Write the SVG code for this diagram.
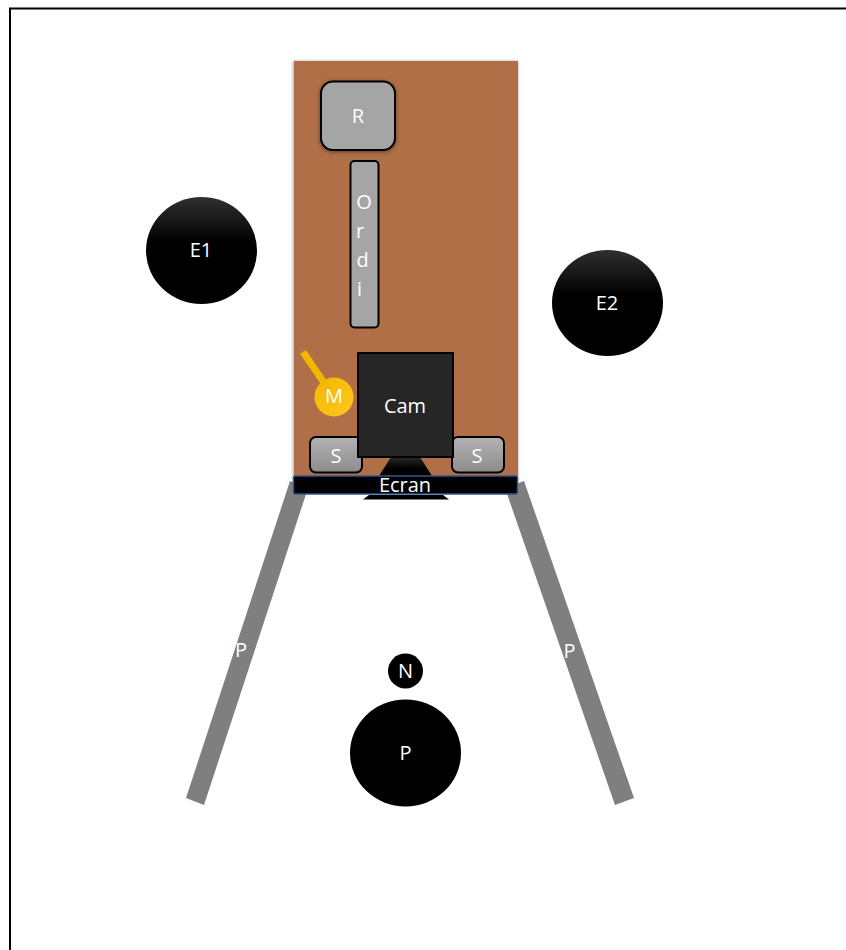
<svg xmlns="http://www.w3.org/2000/svg" width="846" height="950" viewBox="0 0 846 950">
<defs>
<linearGradient id="dark" x1="0" y1="0" x2="0" y2="1"><stop offset="0" stop-color="#303030"/><stop offset="0.42" stop-color="#000"/></linearGradient>
<linearGradient id="grey" x1="0" y1="0" x2="0" y2="1"><stop offset="0" stop-color="#b2b2b2"/><stop offset="1" stop-color="#8c8c8c"/></linearGradient>
<linearGradient id="tri" x1="0" y1="0" x2="0" y2="1"><stop offset="0" stop-color="#2a2a2a"/><stop offset="0.6" stop-color="#000"/></linearGradient>
<linearGradient id="gold" x1="0" y1="0" x2="1" y2="1"><stop offset="0" stop-color="#f2b800"/><stop offset="1" stop-color="#ffc71f"/></linearGradient>
<filter id="sh" x="-20%" y="-20%" width="140%" height="140%"><feDropShadow dx="0" dy="1" stdDeviation="2" flood-color="#000" flood-opacity="0.45"/></filter>
<filter id="shs" x="-5%" y="-5%" width="110%" height="110%"><feGaussianBlur stdDeviation="1.5"/></filter>
</defs>
<style>
text{font-family:"Open Sans","Noto Sans","Liberation Sans",sans-serif;fill:#fff;text-anchor:middle;font-size:20px}
.b{stroke:#000;stroke-width:2}
.pole{fill:#7f7f7f}
</style>
<rect width="846" height="950" fill="#fff"/>
<path d="M10 950V8.500H846" fill="none" stroke="#000" stroke-width="2"/>
<g id="poleL"><path class="pole" d="M290 481L308 488L204 805L186 798Z"/><text x="241" y="656.500">P</text></g>
<g id="poleR"><path class="pole" d="M524 481L505 488L615 805L634 798Z"/><text x="569.500" y="657.500">P</text></g>
<g id="table">
<rect x="293" y="61" width="225" height="420" fill="#000" opacity="0.35" filter="url(#shs)"/>
<rect x="294" y="61" width="224" height="420" fill="#b06f46"/>
</g>
<g id="R"><rect class="b" x="321" y="81.500" width="74" height="68.500" rx="12" fill="#a5a5a5" filter="url(#sh)"/><text x="358" y="122.500">R</text></g>
<g id="Ordi"><rect class="b" x="350.500" y="161" width="28" height="166.500" rx="4" fill="#a5a5a5"/>
<text x="364" y="209">O</text><text x="360" y="238">r</text><text x="362.500" y="267">d</text><text x="359.500" y="295.500">i</text></g>
<g id="M"><circle cx="334" cy="397" r="19.500" fill="url(#gold)"/><path d="M303 352L329 390" stroke="#f2b800" stroke-width="7" fill="none"/><text x="334" y="403">M</text></g>
<g id="S1"><rect class="b" x="310" y="437" width="52" height="35.500" rx="6" fill="url(#grey)"/><text x="336" y="463">S</text></g>
<g id="S2"><rect class="b" x="452" y="437" width="52" height="35.500" rx="6" fill="url(#grey)"/><text x="477" y="463">S</text></g>
<g id="stand"><path d="M391 457H420L432 476H379Z" fill="url(#tri)"/><path d="M369 495H443L449 499.500H363Z" fill="#000"/></g>
<g id="Cam"><rect x="358" y="353" width="95" height="104" fill="#262626" stroke="#000" stroke-width="2"/><text x="405" y="412.500">Cam</text></g>
<g id="Ecran"><rect x="293.500" y="476" width="224" height="18" rx="2" fill="#000" stroke="#2f5597" stroke-width="1.500"/><text x="405" y="492">Ecran</text></g>
<g id="E1"><ellipse cx="201.500" cy="250.500" rx="55.500" ry="53.500" fill="url(#dark)"/><text x="201" y="257">E1</text></g>
<g id="E2"><ellipse cx="607.500" cy="303" rx="55.500" ry="53" fill="url(#dark)"/><text x="607" y="310">E2</text></g>
<g id="N"><circle cx="405.500" cy="671" r="17.500" fill="#000"/><text x="405.500" y="678">N</text></g>
<g id="P"><ellipse cx="405.500" cy="753" rx="55.500" ry="53.500" fill="#000"/><text x="405.500" y="760">P</text></g>
<g id="connectors"></g>
</svg>
